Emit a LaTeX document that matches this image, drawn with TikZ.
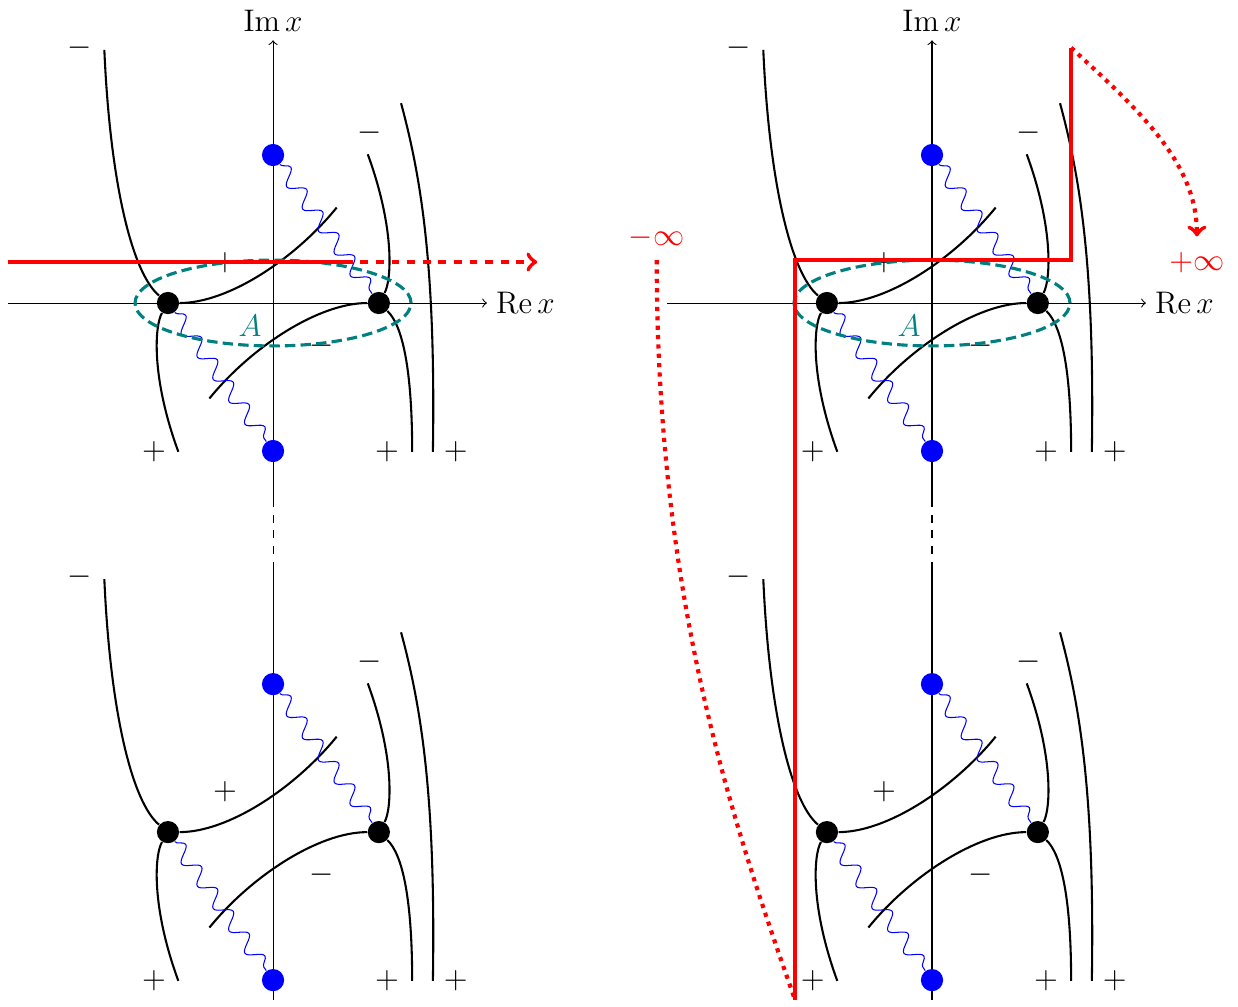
\documentclass[tikz,border=0pt]{standalone}
\usetikzlibrary{decorations.pathmorphing}
\tikzset{
    stokes/.style={thick},
    cut/.style={blue,decorate,decoration={snake,amplitude=1mm,segment length=3.7mm}},
    saddle/.style={circle,fill=black,inner sep=0pt,minimum size=3mm},
    pole/.style={circle,fill=blue,inner sep=0pt,minimum size=3mm},
    sign/.style={font=\large},
    contour/.style={red,ultra thick},
    loopA/.style={teal,very thick,dash pattern=on 4pt off 2pt},
}
\begin{document}
\begin{tikzpicture}[>=to]
    \useasboundingbox (-3.69,-9.5) rectangle (13.04,4.095);
    % axes of both panels
    \foreach \dx in {0,8.905}{
        \begin{scope}[xshift=\dx cm]
            \draw (0,-9.42) -- (0,-3.6);
            \draw[dashed] (0,-3.6) -- (0,-2.65);
            \draw[->] (0,-2.65) -- (0,3.55) node[above,font=\large] (im\dx) {$\mathrm{Im}\,x$};
            \draw[->] (-3.58,0) -- (2.89,0) node[right,font=\large] (re\dx) {$\mathrm{Re}\,x$};
        \end{scope}
    }
    % Stokes graphs
    \foreach \dx/\dy in {0/0,0/-7.15,8.905/0,8.905/-7.15}{
        \begin{scope}[shift={(\dx,\dy)}]
            \node[saddle] (L) at (-1.42,0) {};
            \node[saddle] (R) at (1.43,0) {};
            \node[pole] (T) at (0,2) {};
            \node[pole] (B) at (0,-2) {};
            \coordinate (a1) at (-2.28,3.42);
            \coordinate (a2) at (-1.28,-2.01);
            \coordinate (a3) at (0.86,1.29);
            \coordinate (a4) at (-0.86,-1.29);
            \coordinate (a5) at (1.28,2.01);
            \coordinate (a6) at (1.88,-2.01);
            \coordinate (a7) at (1.73,2.70);
            \coordinate (a8) at (2.16,-2.01);
            \draw[stokes] (L) .. controls (-1.9,0.4) and (-2.2,1.6) .. (a1);
            \draw[stokes] (L) .. controls (-1.6,-0.3) and (-1.65,-1.0) .. (a2);
            \draw[stokes] (L) .. controls (-0.6,0) and (0.3,0.6) .. (a3);
            \draw[stokes] (R) .. controls (0.61,0) and (-0.3,-0.6) .. (a4);
            \draw[stokes] (R) .. controls (1.6,0.3) and (1.65,1.0) .. (a5);
            \draw[stokes] (R) .. controls (1.75,-0.3) and (1.88,-0.9) .. (a6);
            \draw[stokes] (a7) .. controls (2.0,1.7) and (2.2,0.5) .. (a8);
            \draw[cut] (T) -- (R);
            \draw[cut] (L) -- (B);
            \node[sign] (m1) at (-2.61,3.45) {$-$};
            \node[sign] (m2) at (1.30,2.30) {$-$};
            \node[sign] (m3) at (0.66,-0.57) {$-$};
            \node[sign] (p1) at (-0.65,0.55) {$+$};
            \node[sign] (p2) at (-1.61,-2.01) {$+$};
            \node[sign] (p3) at (1.54,-2.01) {$+$};
            \node[sign] (p4) at (2.47,-2.01) {$+$};
        \end{scope}
    }
    \foreach \dx in {0,8.905}{
        \draw[loopA] (\dx,0) ellipse [x radius=1.865, y radius=0.58];
        \node[teal,font=\large] (A\dx) at (\dx-0.31,-0.31) {$A$};
    }
    % left panel: contour
    \coordinate (s0) at (-3.58,0.554);
    \coordinate (s1) at (0.97,0.554);
    \coordinate (s2) at (3.57,0.554);
    \draw[contour] (s0) -- (s1);
    \draw[contour,dashed,->] (s1) -- (s2);
    % right panel: deformed contour
    \coordinate (c0) at (7.055,-9.42);
    \coordinate (c1) at (7.055,0.58);
    \coordinate (c2) at (10.785,0.58);
    \coordinate (c3) at (10.785,3.45);
    \coordinate (d0) at (5.185,0.58);
    \draw[contour] (c0) -- (c1) -- (c2) -- (c3);
    \node[red,font=\large] (minf) at (5.185,0.88) {$-\infty$};
    \node[red,font=\large] (pinf) at (12.485,0.55) {$+\infty$};
    \draw[contour,dotted] (d0) .. controls (5.185,-4) and (6.205,-7) .. (c0);
    \draw[contour,dotted,->] (c3) .. controls (11.705,2.6) and (12.485,1.9) .. (12.485,0.9);
\end{tikzpicture}
\end{document}
